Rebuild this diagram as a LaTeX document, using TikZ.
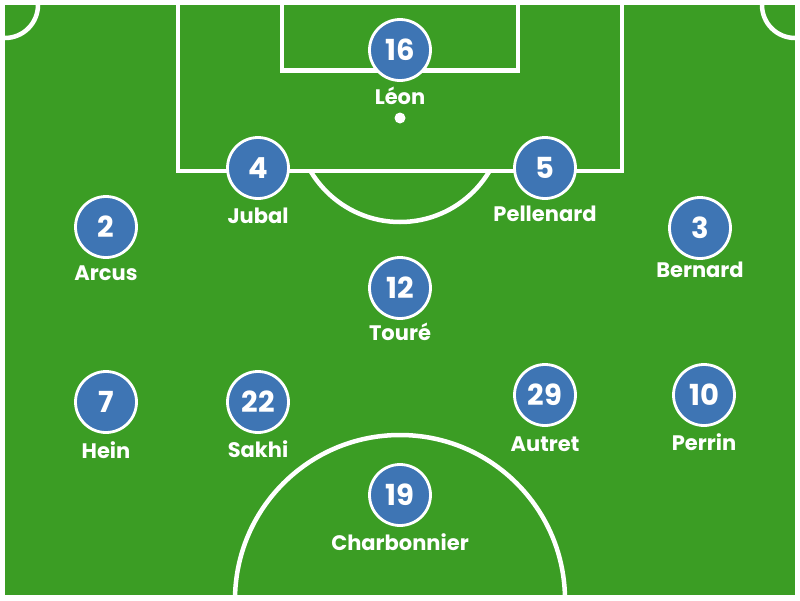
\documentclass[tikz,border=0pt]{standalone}
\usepackage{fontspec}
\setmainfont{Poppins}
\definecolor{pitch}{RGB}{59,157,36}
\definecolor{shirt}{RGB}{62,117,180}
\begin{document}
\begin{tikzpicture}[x=1pt,y=-1pt,
  fieldline/.style={white,line width=4.5pt},
  player/.style={circle,fill=shirt,draw=white,line width=2.8pt,minimum size=61pt,inner sep=0pt,
    text=white,font=\fontsize{29}{29}\selectfont\bfseries},
  pname/.style={anchor=base,text=white,inner sep=0pt,font=\fontsize{21}{21}\selectfont\bfseries}]
\useasboundingbox (0,0) rectangle (800,600);
\fill[white] (0,0) rectangle (800,600);
\fill[pitch] (5,5) rectangle (795,595);
\begin{scope}
  \clip (5,5) rectangle (795,595);
  \draw[fieldline] (178,0) -- (178,171) -- (622,171) -- (622,0);
  \draw[fieldline] (282,0) -- (282,70.5) -- (518,70.5) -- (518,0);
  \draw[fieldline] (5,5) circle[radius=33pt];
  \draw[fieldline] (795,5) circle[radius=33pt];
  \draw[fieldline] (400,600) circle[radius=165pt];
  \begin{scope}
    \clip (0,171) rectangle (800,300);
    \draw[fieldline] (400,118) circle[radius=104pt];
  \end{scope}
  \fill[white] (400,118) circle[radius=5.5pt];
\end{scope}
% players
\node[player] (p16) at (400,50) {16};
\node[pname] (n16) at (400,104) {Léon};
\node[player] (p4) at (258,168) {4};
\node[pname] (n4) at (258,223) {Jubal};
\node[player] (p5) at (545,168) {5};
\node[pname] (n5) at (545,221) {Pellenard};
\node[player] (p2) at (106,227) {2};
\node[pname] (n2) at (106,280) {Arcus};
\node[player] (p3) at (700,228) {3};
\node[pname] (n3) at (700,277) {Bernard};
\node[player] (p12) at (400,288) {12};
\node[pname] (n12) at (400,340) {Touré};
\node[player] (p7) at (106,402) {7};
\node[pname] (n7) at (106,458) {Hein};
\node[player] (p22) at (258,402) {22};
\node[pname] (n22) at (258,457) {Sakhi};
\node[player] (p29) at (545,395) {29};
\node[pname] (n29) at (545,451) {Autret};
\node[player] (p10) at (704,395) {10};
\node[pname] (n10) at (704,450) {Perrin};
\node[player] (p19) at (400,495) {19};
\node[pname] (n19) at (400,550) {Charbonnier};
\end{tikzpicture}
\end{document}
